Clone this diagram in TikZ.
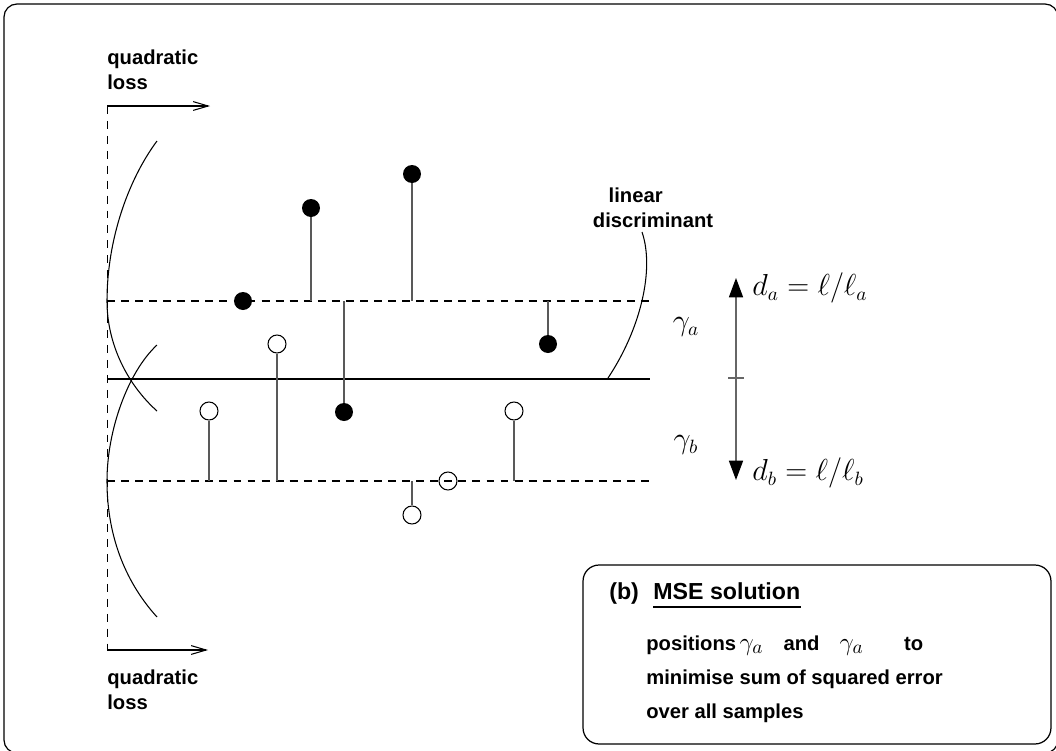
\documentclass[tikz,border=0pt]{standalone}
\usepackage{amsmath}
\usepackage{fontspec}
\newfontfamily\lblfont{Liberation Sans}
\usetikzlibrary{arrows.meta}
\tikzstyle{dotfull} = [circle, fill, inner sep=0pt, minimum size=0.36cm]
\tikzstyle{dotopen} = [circle, draw, inner sep=0pt, minimum size=0.36cm, line width=0.6pt]
\tikzstyle{stem} = [draw=black!65, line width=0.6pt]
\tikzstyle{guide} = [dash pattern=on 4.5pt off 3.5pt, line width=0.6pt]
\tikzstyle{lossc} = [line width=0.6pt]
\tikzstyle{lbl} = [inner sep=0pt, align=left, font=\lblfont\bfseries\fontsize{11.5}{14.2}\selectfont]
\tikzstyle{ttl} = [inner sep=0pt, font=\lblfont\bfseries\fontsize{13.2}{16}\selectfont]
\tikzstyle{mlbl} = [inner sep=0pt, font=\fontsize{16}{19}\selectfont]
\newcommand{\boxgam}{{\fontsize{15}{18}\selectfont$\gamma_a$}}

\begin{document}
\begin{tikzpicture}[x=0.02cm, y=-0.02cm, >={Straight Barb[length=8.5pt,width=5pt]}]
		\useasboundingbox (0,0) rectangle (1056,751);
		\draw[line width=0.7pt, rounded corners=0.26cm] (4,4) rectangle (1058,753);
		
		% Sumbu loss
		\coordinate (axtop) at (107,106);
		\coordinate (axbot) at (107,650);
		\coordinate (axtopr) at (210,106);
		\coordinate (axbotr) at (208,650);
		\draw[dash pattern=on 4.5pt off 4pt, line width=0.5pt] (axtop) -- (axbot);
		\draw[->, line width=0.6pt] (axtop) -- (axtopr);
		\draw[->, line width=0.6pt] (axbot) -- (axbotr);
		\node[lbl, anchor=west] (qltop) at (107,70) {quadratic\\loss};
		\node[lbl, anchor=west] (qlbot) at (107,690) {quadratic\\loss};
		
		% Garis
		\coordinate (upl) at (107,301);
		\coordinate (upr) at (650,301);
		\coordinate (midl) at (107,379);
		\coordinate (midr) at (650,379);
		\coordinate (lol) at (107,481);
		\coordinate (lor) at (650,481);
		\draw[guide] (upl) -- (upr);
		\draw[guide] (lol) -- (lor);
		\draw[line width=1pt] (midl) -- (midr);
		
		% Kurva loss
		\draw[lossc] (157,141) .. controls (128,180) and (107,240) .. (upl) .. controls (107,345) and (128,385) .. (157,411);
		\draw[lossc] (157,345) .. controls (128,372) and (107,430) .. (lol) .. controls (107,540) and (128,585) .. (157,617);
		
		% Sampel a
		\node[dotfull] (fa1) at (243,301) {};
		\node[dotfull] (fa2) at (311,208) {};
		\node[dotfull] (fa3) at (412,174) {};
		\node[dotfull] (fa4) at (548,344) {};
		\node[dotfull] (fa5) at (344,412) {};
		\foreach \p in {fa2,fa3,fa4,fa5}
			\draw[stem] (\p) -- (\p |- upl);
		
		% Sampel b
		\node[dotopen] (ob1) at (277,344) {};
		\node[dotopen] (ob2) at (209,411) {};
		\node[dotopen] (ob3) at (514,411) {};
		\node[dotopen] (ob4) at (448,481) {};
		\node[dotopen] (ob5) at (412,515) {};
		\foreach \p in {ob1,ob2,ob3,ob5}
			\draw[stem] (\p) -- (\p |- lol);
		
		% Diskriminan
		\node[lbl] (disclbl) at (653,208) {\hspace*{9pt}linear\\discriminant};
		\coordinate (leadtop) at (642,232);
		\coordinate (discpt) at (608,378);
		\draw[lossc] (leadtop) .. controls (655,270) and (640,330) .. (discpt);
		
		% Jarak
		\coordinate (dtop) at (736,278);
		\coordinate (dmid) at (736,378);
		\coordinate (dbot) at (736,480);
		\draw[draw=black!60, line width=0.8pt, -{Triangle[length=11pt,width=8pt,black]}] (dmid) -- (dtop);
		\draw[draw=black!60, line width=0.8pt, -{Triangle[length=11pt,width=8pt,black]}] (dmid) -- (dbot);
		\draw[black!60, line width=0.6pt] ([xshift=-0.16cm]dmid) -- ([xshift=0.16cm]dmid);
		\node[mlbl, anchor=west] (dalbl) at (752,288) {$d_a = \ell/\ell_a$};
		\node[mlbl, anchor=west] (dblbl) at (752,473) {$d_b = \ell/\ell_b$};
		\node[mlbl] (galbl) at (686,327) {$\gamma_a$};
		\node[mlbl] (gblbl) at (686,445) {$\gamma_b$};
		
		% Kotak keterangan
		\node[draw, rounded corners=0.32cm, line width=0.7pt, minimum width=9.36cm, minimum height=3.58cm] (msebox) at (817,654.5) {};
		\node[ttl, anchor=base west] (bttl) at (609,599) {(b)};
		\node[ttl, anchor=base west] (msettl) at (653,599) {MSE solution};
		\draw[line width=0.9pt] ([yshift=-4.5pt]msettl.base west) -- ([yshift=-4.5pt]msettl.base east);
		\node[lbl, anchor=base west] (ln1) at (646,650) {positions\,\boxgam\quad and\quad \boxgam\qquad to};
		\node[lbl, anchor=base west] (ln2) at (646,684) {minimise sum of squared error};
		\node[lbl, anchor=base west] (ln3) at (646,718) {over all samples};
	\end{tikzpicture}
\end{document}
